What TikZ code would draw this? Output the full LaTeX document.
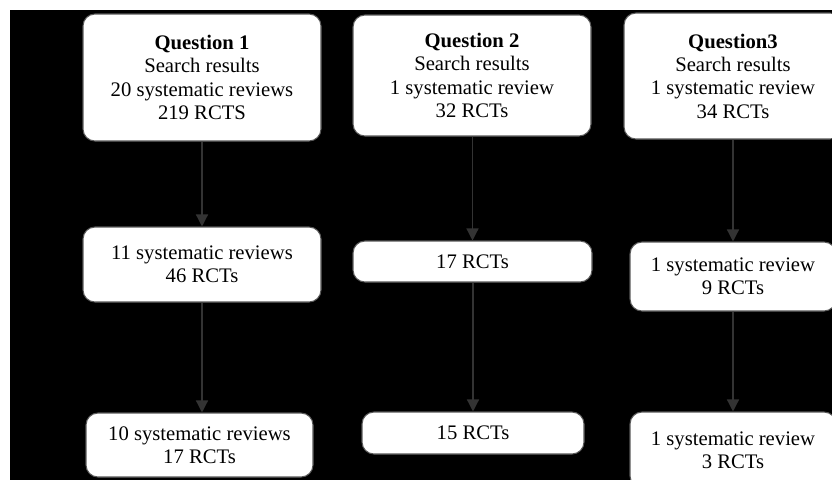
\documentclass[tikz,border=0pt]{standalone}
\usepackage{fontspec}
\setmainfont{Liberation Serif}
\usetikzlibrary{arrows.meta}
\definecolor{boxline}{HTML}{595959}
\definecolor{linkgray}{HTML}{333333}
\begin{document}
\begin{tikzpicture}[x=0.75pt, y=-0.75pt, >={Triangle[width=9pt,length=9pt]},
  box/.style={draw=boxline, fill=white, rounded corners=9pt, align=center, inner sep=0pt, line width=0.8pt, font=\fontsize{15.5}{17.5}\selectfont},
  link/.style={->, draw=linkgray, line width=1pt}]

\useasboundingbox (0,0) rectangle (832,479);
\clip (0,0) rectangle (832,479);
\fill[black] (10,10) rectangle (840,490);

% question 1
\node(A1) at (202,77.5)[box, minimum width=178.5pt, minimum height=95.25pt]{\textbf{Question 1}\\Search results\\20 systematic reviews\\219 RCTS};
\node(A2) at (202,264.5)[box, minimum width=178.5pt, minimum height=56.25pt]{11 systematic reviews\\46 RCTs};
\node(A3) at (199.5,445)[box, minimum width=170.25pt, minimum height=48pt]{10 systematic reviews\\17 RCTs};
\draw[link](A1)--(A2);
\draw[link](A2.south)--(A2.south |- A3.north);

% question 2
\node(B1) at (472,75.5)[box, minimum width=178.5pt, minimum height=90.75pt]{\textbf{Question 2}\\Search results\\1 systematic review\\32 RCTs};
\node(B2) at (472.5,261.5)[box, minimum width=179.25pt, minimum height=30.75pt]{17 RCTs};
\node(B3) at (473,433)[box, minimum width=166.5pt, minimum height=31.5pt]{15 RCTs};
\draw[link](B1.south -| B2.north)--(B2.north);
\draw[link](B2.south -| B3.north)--(B3.north);

% question 3
\node(C1) at (733,76)[box, minimum width=163.5pt, minimum height=94.5pt]{\textbf{Question3}\\Search results\\1 systematic review\\34 RCTs};
\node(C2) at (733,276.5)[box, minimum width=154.5pt, minimum height=51.75pt]{1 systematic review\\9 RCTs};
\node(C3) at (733,450)[box, minimum width=154.5pt, minimum height=57pt]{1 systematic review\\3 RCTs};
\draw[link](C1)--(C2);
\draw[link](C2)--(C3);

\end{tikzpicture}
\end{document}
